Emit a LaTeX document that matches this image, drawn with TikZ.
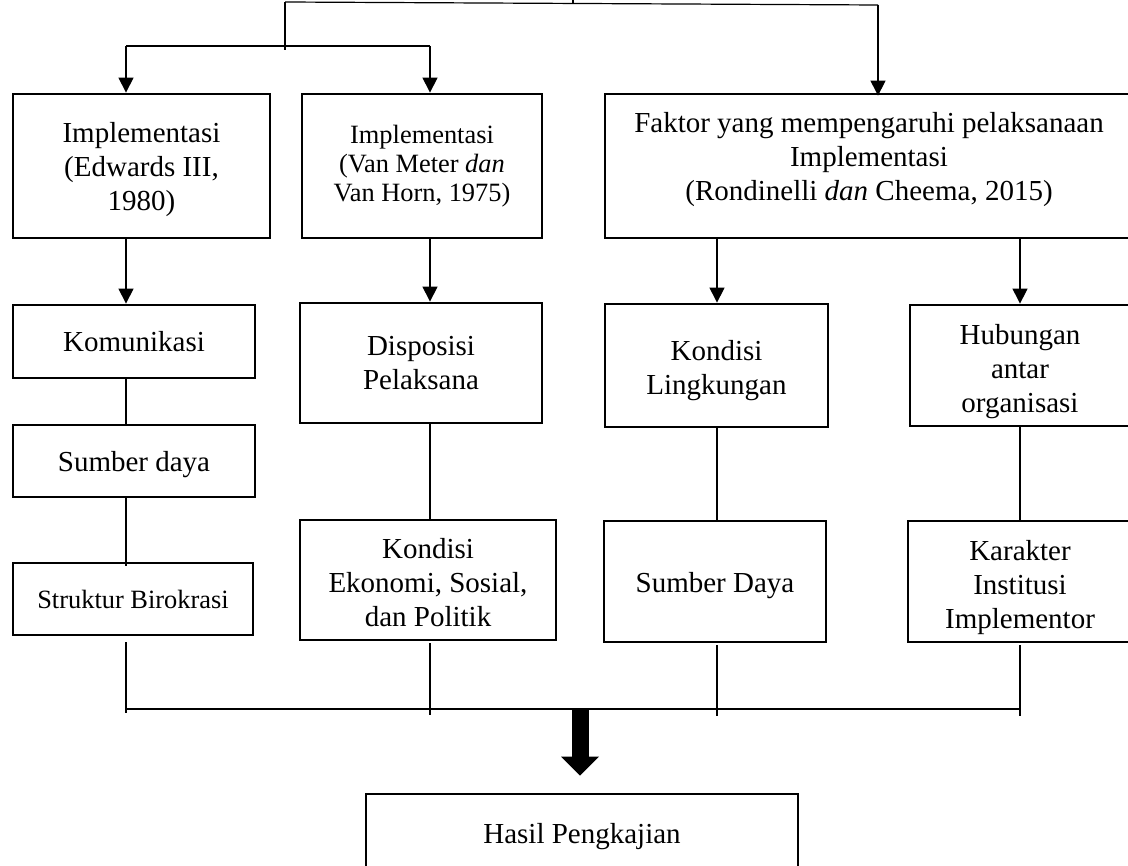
\documentclass[tikz,border=0pt]{standalone}
\usepackage{fontspec}
\setmainfont{Liberation Serif}
\usetikzlibrary{arrows.meta,positioning,calc}

% struts to move a text up or down inside its box
\newcommand{\topgap}[1]{\rule{0pt}{#1}}
\newcommand{\botgap}[1]{\rule[-#1]{0pt}{0pt}}

\tikzset{
  box/.style={draw,line width=1.4pt,align=center,inner sep=2pt,
    font=\fontsize{14.5}{17}\selectfont},
  smallbox/.style={box,font=\fontsize{13.2}{14.5}\selectfont},
  link/.style={line width=0.6pt},
  arr/.style={link,-{Triangle[length=7.5pt,width=7.5pt]}},
}

\begin{document}
\begin{tikzpicture}[x=0.5pt,y=-0.5pt]

  % ---- Page frame -------------------------------------------
  \useasboundingbox (0,0) rectangle (1128,866);
  \clip (0,0) rectangle (1128,866);

  % ---- Theories (top row) -----------------------------------
  \node[box,minimum width=128.5pt,minimum height=72pt] (impl1) at (141.5,166)
    {\topgap{13.6pt}Implementasi\\(Edwards III,\\1980)};
  \node[smallbox,minimum width=120pt,minimum height=72pt] (impl2) at (422,166)
    {Implementasi\\(Van Meter \textit{dan}\\Van Horn, 1975)};
  \node[box,minimum width=264pt,minimum height=72pt] (faktor) at (869,166)
    {Faktor yang mempengaruhi pelaksanaan\\Implementasi\\(Rondinelli \textit{dan} Cheema, 2015)\botgap{9.6pt}};

  % ---- Edwards III column -----------------------------------
  \node[box,minimum width=121pt,minimum height=36.5pt] (kom) at (134,341.5) {Komunikasi};
  \node[box,minimum width=121pt,minimum height=36pt] (sdaya) at (134,461)
    {\topgap{13.9pt}Sumber daya};
  \node[smallbox,minimum width=120pt,minimum height=36pt] (struk) at (133,599) {Struktur Birokrasi};

  % ---- Van Meter column -------------------------------------
  \node[box,minimum width=121pt,minimum height=60pt] (dispo) at (421,363)
    {Disposisi\\Pelaksana};
  \node[box,minimum width=128pt,minimum height=60pt] (kondek) at (428,580)
    {\topgap{12.3pt}Kondisi\\Ekonomi, Sosial,\\dan Politik};

  % ---- Rondinelli columns -----------------------------------
  \node[box,minimum width=111.5pt,minimum height=61.5pt] (lingk) at (716.5,365.5)
    {\topgap{14.9pt}Kondisi\\Lingkungan};
  \node[box,minimum width=111pt,minimum height=60.5pt] (sdaya2) at (715,581.5)
    {\topgap{14.4pt}Sumber Daya};
  \node[box,minimum width=110pt,minimum height=60.5pt] (hub) at (1020,365.5)
    {\topgap{16.6pt}Hubungan\\antar\\organisasi};
  \node[box,minimum width=112pt,minimum height=60.5pt] (karak) at (1020,581.5)
    {\topgap{15.9pt}Karakter\\Institusi\\Implementor};

  % ---- Result -----------------------------------------------
  \node[box,minimum width=216pt,minimum height=43pt] (hasil) at (582,837)
    {Hasil Pengkajian};

  % ---- Column lines -----------------------------------------
  \coordinate (c1) at (126,0);
  \coordinate (c2) at (430,0);
  \coordinate (c3) at (717,0);
  \coordinate (c4) at (1020,0);

  % ---- Top split --------------------------------------------
  \coordinate (tick) at (573,0);
  \coordinate (topL) at (285,2);
  \coordinate (topR) at (878,5);
  \coordinate (split) at (285,50);
  \coordinate (splitL) at (126,46);
  \coordinate (splitR) at (430,46);
  \draw[link] (tick) -- ++(0,3);
  \draw[link] (topL) -- (topR);
  \draw[link] (topL) -- (split);
  \draw[link] (splitL) -- (splitR);
  \draw[arr] (splitL) -- (splitL |- impl1.north);
  \draw[arr] (splitR) -- (splitR |- impl2.north);
  \draw[arr,shorten >=-1.5pt] (topR) -- (topR |- faktor.north);

  % ---- Theory to first factor -------------------------------
  \draw[arr] (impl1.south -| c1) -- (kom.north -| c1);
  \draw[arr] (impl2.south -| c2) -- (dispo.north -| c2);
  \draw[arr] (faktor.south -| c3) -- (lingk.north -| c3);
  \draw[arr] (faktor.south -| c4) -- (hub.north -| c4);

  % ---- Factor chains ----------------------------------------
  \draw[link] (kom.south -| c1) -- (sdaya.north -| c1);
  \draw[link] (sdaya.south -| c1) -- ([yshift=-2pt]struk.north -| c1);
  \draw[link] (dispo.south -| c2) -- (kondek.north -| c2);
  \draw[link] (lingk.south -| c3) -- (sdaya2.north -| c3);
  \draw[link] (hub.south -| c4) -- (karak.north -| c4);

  % ---- Bottom bus -------------------------------------------
  \coordinate (busL) at (126,709);
  \coordinate (busR) at (1020,709);
  \coordinate (join) at (580,709);
  \draw[link] ([yshift=-3pt]struk.south -| c1) -- ++(0,71);
  \draw[link] ([yshift=-1pt]kondek.south -| c2) -- ++(0,72);
  \draw[link] ([yshift=-1pt]sdaya2.south -| c3) -- ++(0,71);
  \draw[link] ([yshift=-1pt]karak.south -| c4) -- ++(0,71);
  \draw[link] (busL) -- (busR);

  % Thick arrow down to result
  \draw[line width=8.5pt,-{Triangle[length=9.5pt,width=19pt,line width=0pt]},
    shorten >=8.5pt] (join) -- (join |- hasil.north);

\end{tikzpicture}
\end{document}
